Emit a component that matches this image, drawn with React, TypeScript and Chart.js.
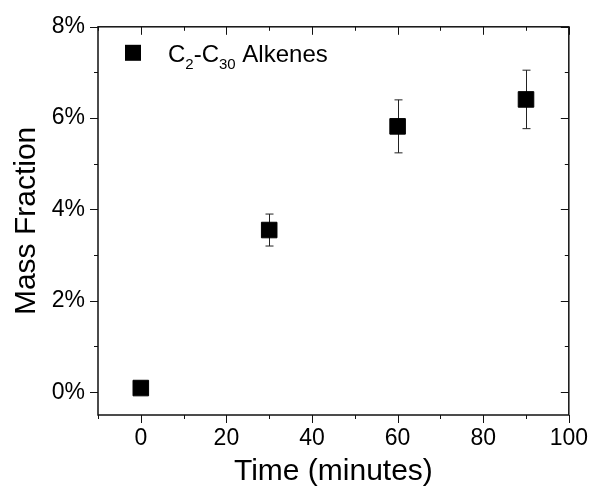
import React, { useEffect, useRef } from "react";
import { Chart, registerables } from "chart.js";

Chart.register(...registerables);

const TIMES = [0, 30, 60, 90];
const ALKENES = [0.09, 3.55, 5.82, 6.41];
const ALKENES_ERR = [0, 0.35, 0.58, 0.64];
const X_MAJOR = [0, 20, 40, 60, 80, 100];
const X_MINOR = [-10, 10, 30, 50, 70, 90];
const Y_MAJOR = [0, 2, 4, 6, 8];
const Y_MINOR = [1, 3, 5, 7];
const LEGEND_PARTS = [
  { t: "C", sub: false },
  { t: "2", sub: true },
  { t: "-C", sub: false },
  { t: "30", sub: true },
  { t: " Alkenes", sub: false },
];
const FONT = "'Liberation Sans', Arial, sans-serif";

const errorBars = {
  id: "errorBars",
  beforeDatasetsDraw(chart: any) {
    const { ctx, scales } = chart;
    const x = scales.x;
    const y = scales.y;
    ctx.save();
    ctx.strokeStyle = "#222";
    ctx.lineWidth = 1;
    TIMES.forEach((t, i) => {
      const e = ALKENES_ERR[i];
      if (!e) return;
      const px = Math.round(x.getPixelForValue(t)) + 0.5;
      const top = y.getPixelForValue(ALKENES[i] + e);
      const bot = y.getPixelForValue(ALKENES[i] - e);
      ctx.beginPath();
      ctx.moveTo(px, top);
      ctx.lineTo(px, bot);
      ctx.moveTo(px - 4, top);
      ctx.lineTo(px + 4, top);
      ctx.moveTo(px - 4, bot);
      ctx.lineTo(px + 4, bot);
      ctx.stroke();
    });
    ctx.restore();
  },
};

const frameTicks = {
  id: "frameTicks",
  afterDraw(chart: any) {
    const { ctx, chartArea: a, scales } = chart;
    const x = scales.x;
    const y = scales.y;
    ctx.save();
    ctx.strokeStyle = "#111";
    ctx.lineWidth = 1;
    const tick = (v: number, len: number, horiz: boolean) => {
      if (horiz) {
        const px = Math.round(x.getPixelForValue(v)) + 0.5;
        ctx.beginPath();
        ctx.moveTo(px, a.bottom);
        ctx.lineTo(px, a.bottom + len);
        ctx.moveTo(px, a.top);
        ctx.lineTo(px, a.top + len);
        ctx.stroke();
      } else {
        const py = Math.round(y.getPixelForValue(v)) + 0.5;
        ctx.beginPath();
        ctx.moveTo(a.left, py);
        ctx.lineTo(a.left - len, py);
        ctx.moveTo(a.right, py);
        ctx.lineTo(a.right - len, py);
        ctx.stroke();
      }
    };
    X_MAJOR.forEach((v) => tick(v, 8, true));
    X_MINOR.forEach((v) => tick(v, 4, true));
    Y_MAJOR.forEach((v) => tick(v, 8, false));
    Y_MINOR.forEach((v) => tick(v, 4, false));
    ctx.lineWidth = 1.5;
    ctx.strokeRect(a.left, a.top, a.right - a.left, a.bottom - a.top);

    // legend
    ctx.fillStyle = "#000";
    ctx.fillRect(a.left + 27, a.top + 18, 16, 16);
    let tx = a.left + 70;
    const base = a.top + 35;
    ctx.textBaseline = "alphabetic";
    ctx.textAlign = "left";
    LEGEND_PARTS.forEach((p) => {
      ctx.font = `${p.sub ? 15 : 24}px ${FONT}`;
      ctx.fillText(p.t, tx, p.sub ? base + 7 : base);
      tx += ctx.measureText(p.t).width;
    });
    ctx.restore();
  },
};

export default function App() {
  const ref = useRef<HTMLCanvasElement | null>(null);
  useEffect(() => {
    document.body.style.margin = "0";
    const chart = new Chart(ref.current as HTMLCanvasElement, {
      type: "scatter",
      data: {
        datasets: [
          {
            label: "C2-C30 Alkenes",
            data: TIMES.map((t, i) => ({ x: t, y: ALKENES[i] })),
            pointStyle: "rect",
            pointRadius: 11,
            pointHoverRadius: 11,
            backgroundColor: "#000",
            borderColor: "#000",
            borderWidth: 1,
          },
        ],
      },
      options: {
        animation: false,
        responsive: true,
        maintainAspectRatio: false,
        layout: { padding: { top: 24, right: 21, left: 0, bottom: 0 } },
        plugins: { legend: { display: false }, tooltip: { enabled: false } },
        scales: {
          x: {
            type: "linear",
            min: -10,
            max: 100,
            afterBuildTicks: (s: any) => {
              s.ticks = X_MAJOR.map((v) => ({ value: v }));
            },
            afterFit: (s: any) => {
              s.height = 78;
            },
            grid: { display: false, drawTicks: false },
            border: { display: false },
            ticks: {
              padding: 10,
              color: "#000",
              font: { family: FONT, size: 23 },
              maxRotation: 0,
              autoSkip: false,
            },
            title: {
              display: true,
              text: "Time (minutes)",
              color: "#000",
              font: { family: FONT, size: 30 },
              padding: { top: 0, bottom: 3 },
            },
          },
          y: {
            type: "linear",
            min: -0.5,
            max: 8,
            afterBuildTicks: (s: any) => {
              s.ticks = Y_MAJOR.map((v) => ({ value: v }));
            },
            afterFit: (s: any) => {
              s.width = 98;
            },
            grid: { display: false, drawTicks: false },
            border: { display: false },
            ticks: {
              padding: 13,
              color: "#000",
              font: { family: FONT, size: 23 },
              callback: (v: any) => `${v}%`,
            },
            title: {
              display: true,
              text: "Mass Fraction",
              color: "#000",
              font: { family: FONT, size: 30 },
              padding: { top: 8.5, bottom: 0 },
            },
          },
        },
      },
      plugins: [errorBars, frameTicks],
    });
    return () => chart.destroy();
  }, []);
  return (
    <div style={{ position: "relative", width: 598, height: 493, background: "#fff" }}>
      <canvas ref={ref} />
    </div>
  );
}
